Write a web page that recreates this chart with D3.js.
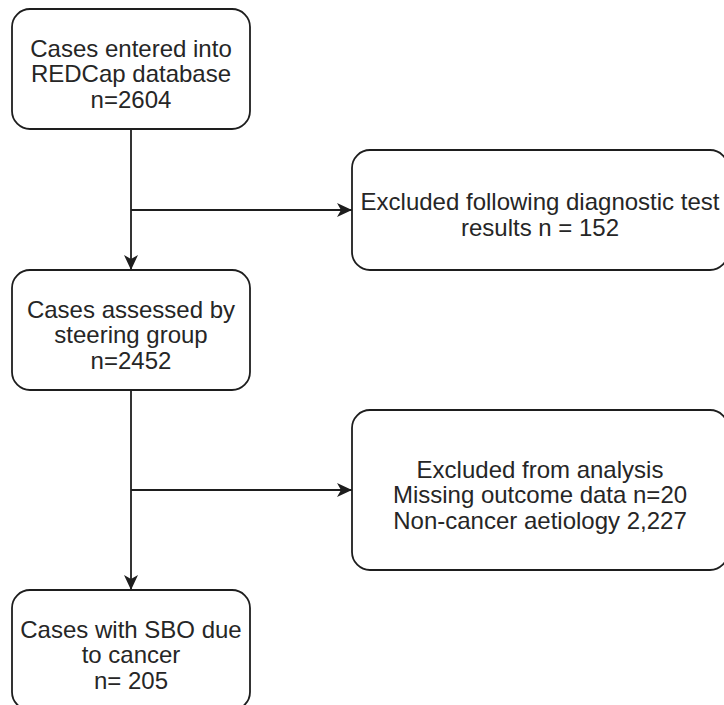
<!DOCTYPE html>
<html>
<head>
<meta charset="utf-8">
<script src="https://cdn.jsdelivr.net/npm/d3@7"></script>
<style>
  body { margin: 0; background: #fff; }
  svg { display: block; }
  text { font-family: "Liberation Sans", Arial, Helvetica, sans-serif; fill: #262626; }
</style>
</head>
<body>
<svg id="viz"></svg>
<script>
var width = 724;
var height = 705;

// main flow steps (left column) and exclusions (right column)
var stepLines = [
  ["Cases entered into", "REDCap database", "n=2604"],
  ["Cases assessed by", "steering group", "n=2452"],
  ["Cases with SBO due", "to cancer", "n= 205"]
];
var exclusionLines = [
  ["Excluded following diagnostic test", "results n = 152"],
  ["Excluded from analysis", "Missing outcome data n=20", "Non-cancer aetiology 2,227"]
];

// layout
var mainX = [12, 250];
var sideX = [352, 728];
var mainRows = [[9, 129], [270, 390], [590, 710]];
var sideRows = [[150, 270], [410, 570]];
var lineGap = 25.5;
var stroke = "#1e1e1e";

var svg = d3.select("#viz").attr("width", width).attr("height", height);

svg.append("defs").append("marker")
    .attr("id", "arrow")
    .attr("viewBox", "0 -8 15 16")
    .attr("refX", 15)
    .attr("refY", 0)
    .attr("markerWidth", 15)
    .attr("markerHeight", 16)
    .attr("markerUnits", "userSpaceOnUse")
    .attr("orient", "auto")
  .append("path")
    .attr("d", "M15,0L0,-7L4,0L0,7Z")
    .attr("fill", stroke);

var nodes = stepLines.map(function(lines, i) {
  return {lines: lines, x0: mainX[0], x1: mainX[1], y0: mainRows[i][0], y1: mainRows[i][1]};
}).concat(exclusionLines.map(function(lines, i) {
  return {lines: lines, x0: sideX[0], x1: sideX[1], y0: sideRows[i][0], y1: sideRows[i][1]};
}));

var spineX = (mainX[0] + mainX[1]) / 2;

// connectors
var links = [];
for (var i = 0; i < stepLines.length - 1; i++) {
  links.push([[spineX, mainRows[i][1]], [spineX, mainRows[i + 1][0]]]);
  var ym = (sideRows[i][0] + sideRows[i][1]) / 2;
  links.push([[spineX, ym], [sideX[0], ym]]);
}

var line = d3.line();

svg.append("g").selectAll("path")
  .data(links)
  .enter()
  .append("path")
    .attr("d", line)
    .attr("fill", "none")
    .attr("stroke", stroke)
    .attr("stroke-width", 1.8)
    .attr("marker-end", "url(#arrow)");

var box = svg.append("g").selectAll("g")
  .data(nodes)
  .enter()
  .append("g");

box.append("rect")
    .attr("x", function(d) { return d.x0; })
    .attr("y", function(d) { return d.y0; })
    .attr("width", function(d) { return d.x1 - d.x0; })
    .attr("height", function(d) { return d.y1 - d.y0; })
    .attr("rx", 18)
    .attr("ry", 18)
    .attr("fill", "#fff")
    .attr("stroke", stroke)
    .attr("stroke-width", 1.8);

box.each(function(d) {
  var cx = (d.x0 + d.x1) / 2;
  var cy = (d.y0 + d.y1) / 2;
  var n = d.lines.length;
  var first = cy - (n - 1) * lineGap / 2 + 13;
  d3.select(this).selectAll("text")
    .data(d.lines)
    .enter()
    .append("text")
      .attr("x", cx)
      .attr("y", function(t, j) { return first + j * lineGap; })
      .attr("text-anchor", "middle")
      .style("font-size", "24px")
      .text(function(t) { return t; });
});
</script>
</body>
</html>
